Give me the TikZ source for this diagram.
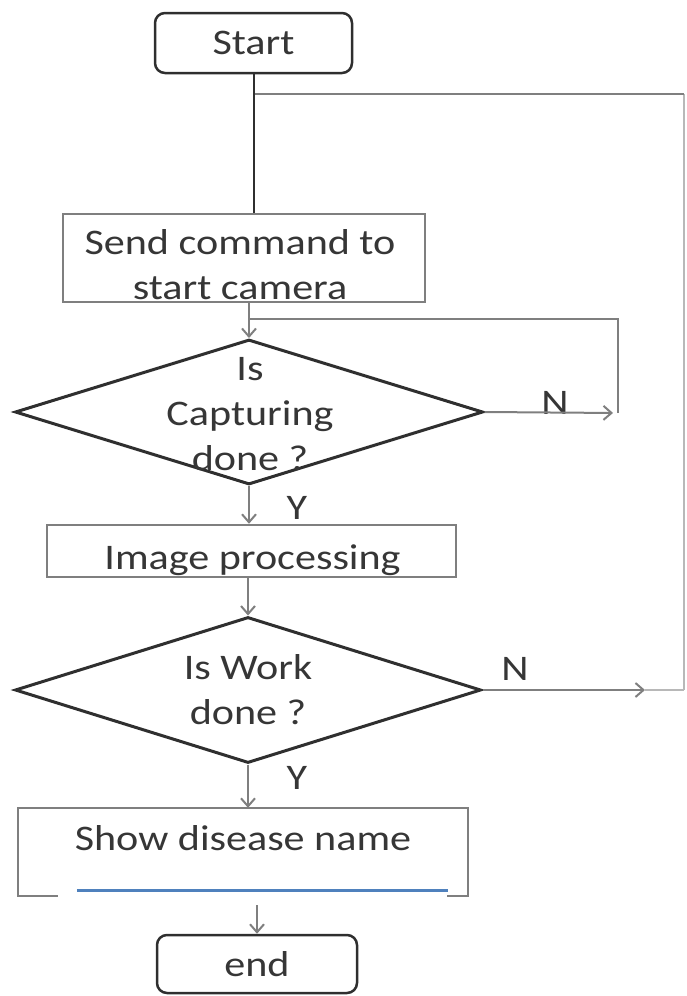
\documentclass[tikz,border=0pt]{standalone}
\usepackage{fontspec}
\setmainfont{Carlito}[FakeStretch=1.17]
\usepackage{tikz}
\usetikzlibrary{arrows.meta,shapes.geometric,positioning}
\definecolor{txtgray}{HTML}{363636}
\definecolor{linegray}{HTML}{7F7F7F}
\definecolor{darkline}{HTML}{2F2F2F}
\definecolor{paleline}{HTML}{B8B8B8}
\definecolor{officeblue}{HTML}{4F81BD}

\begin{document}
\begin{tikzpicture}[x=1pt,y=-1pt,>={Straight Barb[length=8pt,width=14pt]},
        every node/.style={font=\fontsize{36}{44}\selectfont,text=txtgray,align=center,inner sep=0pt},
        term/.style={draw=darkline,line width=2.5pt,rounded corners=10pt},
        proc/.style={draw=linegray,line width=2.5pt},
        decision/.style={diamond,draw=darkline,line width=3pt},
        flow/.style={->,draw=linegray,line width=2pt},
        plain/.style={draw=linegray,line width=2pt}]
            \useasboundingbox (0,0) rectangle (686,996);

            % boxes
            \node   [term,minimum width=197pt,minimum height=60pt]  (start)     at (253.5,43)   {Start};
            \node   [proc,minimum width=362pt,minimum height=88pt]  (send)      at (244,258)    {};
            \node   [decision,minimum width=468pt,minimum height=145pt] (capture) at (249,412)  {};
            \node   [proc,minimum width=409pt,minimum height=52pt]  (image)     at (251.5,551)  {};
            \node   [decision,minimum width=466pt,minimum height=146pt] (work)  at (248,690)    {};
            \node   [minimum width=450pt,minimum height=88pt]       (show)      at (243,852)    {};
            \node   [term,minimum width=200pt,minimum height=58pt]  (end)       at (257,964)    {end};

            % texts
            \node   [font=\fontsize{36}{45}\selectfont] (sendtxt)    at (240,265)    {Send command to\\start camera};
            \node   [font=\fontsize{36}{45}\selectfont] (capturetxt) at (250,414)    {Is\\Capturing\\done ?};
            \node   (imagetxt)  at (252.5,560)  {Image processing};
            \node   [font=\fontsize{36}{45}\selectfont] (worktxt)    at (248,690)    {Is Work\\done ?};
            \node   (showtxt)   at (243,838)    {Show disease name};

            % labels
            \node   (n1)    at (555,403)    {N};
            \node   (n2)    at (515,669)    {N};
            \node   (y1)    at (297,508)    {Y};
            \node   (y2)    at (297,778)    {Y};

            % show box, bottom edge left open
            \draw   [proc] ([xshift=40pt]show.south west) -- (show.south west) -- (show.north west)
                        -- (show.north east) -- (show.south east) -- ([xshift=-21pt]show.south east);
            \draw   [officeblue,line width=3pt] ([xshift=59pt,yshift=6pt]show.south west)
                        -- ([xshift=-20pt,yshift=6pt]show.south east);

            \coordinate (topjoin)   at (255,94);
            \coordinate (join1)     at (249,319);
            \coordinate (loop1)     at (618,413);
            \coordinate (arr2)      at (645,690);
            \coordinate (ret2)      at (684,690);

            % main flow
            \draw   [line width=2pt,draw=darkline] (start.south) -- (start.south |- send.north);
            \draw   [flow] (send.south -| capture.north) -- (capture.north);
            \draw   [flow] (capture.south) -- (capture.south |- image.north);
            \draw   [flow] (image.south -| work.north) -- (work.north);
            \draw   [flow] (work.south) -- (work.south |- show.north);
            \draw   [flow,shorten <=9pt] (show.south -| end.north) -- (end.north);

            % loops
            \draw   [flow,shorten >=5pt] (capture.east) -- (loop1);
            \draw   [plain] (loop1) |- (join1);
            \draw   [flow] (work.east) -- (arr2);
            \draw   [draw=paleline,line width=2pt] (arr2) -- (ret2);
            \draw   [draw=paleline,line width=1.5pt] (ret2) -- (ret2 |- topjoin);
            \draw   [plain,line width=2.5pt] (topjoin) -- (ret2 |- topjoin);
\end{tikzpicture}
\end{document}
